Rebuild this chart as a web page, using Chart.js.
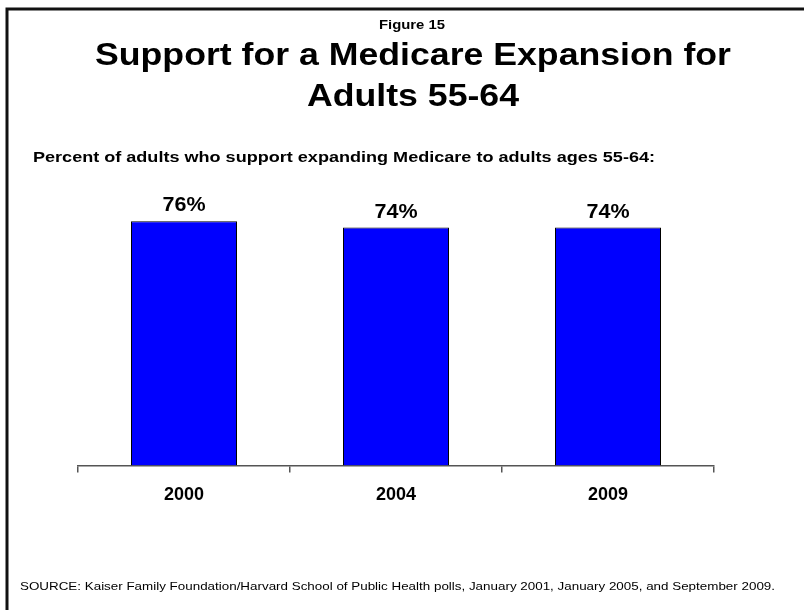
<!DOCTYPE html>
<html>
<head>
<meta charset="utf-8">
<script src="https://cdn.jsdelivr.net/npm/chart.js@4/dist/chart.umd.min.js"></script>
<style>
  html, body { margin: 0; padding: 0; background: #fff; }
  #wrap { width: 804px; height: 610px; }
</style>
</head>
<body>
<div id="wrap"><canvas id="chart" width="804" height="610"></canvas></div>
<script>
const years = ['2000', '2004', '2009'];
const support = [76, 74, 74];

const figureLabel = 'Figure 15';
const titleLines = ['Support for a Medicare Expansion for', 'Adults 55-64'];
const noteText = 'Percent of adults who support expanding Medicare to adults ages 55-64:';
const sourceText = 'SOURCE: Kaiser Family Foundation/Harvard School of Public Health polls, January 2001, January 2005, and September 2009.';

const FONT = '"Liberation Sans", Arial, sans-serif';

// the original slide is stretched sideways, so text is scaled to a width
function fitText(ctx, text, x, y, width, align) {
  const w = ctx.measureText(text).width;
  const s = width / w;
  ctx.save();
  let x0 = x;
  if (align === 'center') x0 = x - (w * s) / 2;
  ctx.translate(x0, y);
  ctx.scale(s, 1);
  ctx.textAlign = 'left';
  ctx.fillText(text, 0, 0);
  ctx.restore();
}

const decorations = {
  id: 'decorations',
  afterDraw(chart) {
    const ctx = chart.ctx;
    ctx.save();
    // frame
    ctx.strokeStyle = '#111';
    ctx.lineWidth = 3;
    ctx.beginPath();
    ctx.moveTo(804, 9);
    ctx.lineTo(7, 9);
    ctx.lineTo(7, 610);
    ctx.stroke();

    ctx.fillStyle = '#000';
    ctx.textBaseline = 'alphabetic';
    ctx.font = 'bold 12px ' + FONT;
    fitText(ctx, figureLabel, 412, 29, 66, 'center');
    ctx.font = 'bold 32px ' + FONT;
    fitText(ctx, titleLines[0], 413, 65, 636, 'center');
    ctx.font = 'bold 32px ' + FONT;
    fitText(ctx, titleLines[1], 413, 106, 212, 'center');
    ctx.font = 'bold 15px ' + FONT;
    fitText(ctx, noteText, 33, 162, 622, 'left');
    ctx.font = '11px ' + FONT;
    fitText(ctx, sourceText, 20, 590, 755, 'left');

    // value labels above bars
    const meta = chart.getDatasetMeta(0);
    ctx.font = 'bold 20px ' + FONT;
    meta.data.forEach((bar, i) => {
      fitText(ctx, support[i] + '%', bar.x, bar.y - 10, 43, 'center');
    });
    ctx.restore();
  }
};

new Chart(document.getElementById('chart'), {
  type: 'bar',
  data: {
    labels: years,
    datasets: [{
      data: support,
      backgroundColor: '#0000ff',
      borderColor: '#000',
      borderWidth: 1,
      categoryPercentage: 1,
      barPercentage: 0.5
    }]
  },
  options: {
    responsive: false,
    animation: false,
    layout: { padding: { top: 144, left: 78, right: 90, bottom: 92 } },
    plugins: {
      legend: { display: false },
      tooltip: { enabled: false },
      title: { display: false }
    },
    scales: {
      x: {
        grid: { offset: true, drawOnChartArea: false, drawTicks: true, tickLength: 7, color: '#555', lineWidth: 1.5 },
        border: { display: true, color: '#555', width: 1.5 },
        ticks: { color: '#000', padding: 12, font: { family: FONT, size: 18, weight: 'bold' } }
      },
      y: {
        display: false,
        min: 0,
        max: 100
      }
    }
  },
  plugins: [decorations]
});
</script>
</body>
</html>
